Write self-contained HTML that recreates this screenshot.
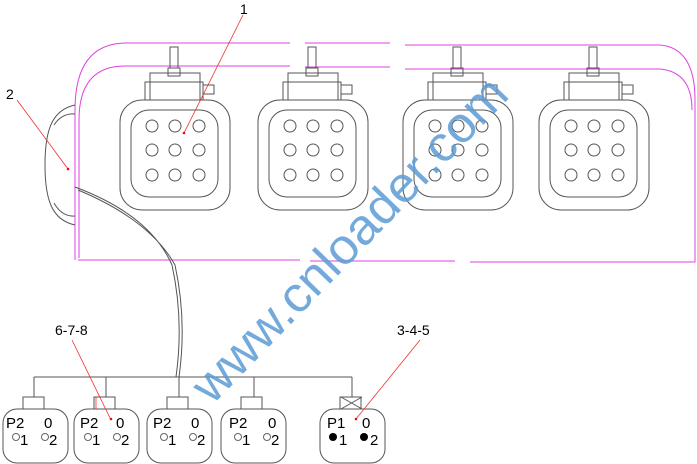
<!DOCTYPE html>
<html><head><style>html,body{margin:0;padding:0;background:#fff}svg{display:block}</style></head><body>
<svg width="697" height="464" viewBox="0 0 697 464" xmlns="http://www.w3.org/2000/svg" font-family="Liberation Sans, Arial, sans-serif">
<defs>
<g id="m" fill="none" stroke="#555" stroke-width="1">
<rect x="0" y="70" width="110" height="110" rx="22"/>
<rect x="11" y="80" width="87" height="87" rx="18"/>
<circle cx="32" cy="96" r="6"/><circle cx="55" cy="96" r="6"/><circle cx="79" cy="96" r="6"/>
<circle cx="32" cy="120" r="6"/><circle cx="55" cy="120" r="6"/><circle cx="79" cy="120" r="6"/>
<circle cx="32" cy="145" r="6"/><circle cx="55" cy="145" r="6"/><circle cx="79" cy="145" r="6"/>
<rect x="25" y="52" width="58" height="18"/>
<rect x="30" y="43" width="50" height="27"/>
<rect x="83" y="55" width="11" height="9"/>
<rect x="48" y="38" width="12" height="8"/>
<rect x="50" y="17" width="8" height="21"/>
</g>
<g id="c" fill="none" stroke="#555">
<rect x="0" y="12" width="65" height="54" rx="14"/>
<rect x="20" y="0" width="21" height="12"/>
</g>
</defs>
<g fill="none" stroke="#e040e0" stroke-width="1">
<path d="M75 260 V110 Q75 44 125 43 H290 M305 43 H390 M405 45 H660 Q695 48 695 100 V262 H470"/>
<path d="M79 258 V120 Q79 66 125 66 H290 M305 67 H390 M405 69 H660 Q692 72 692 110"/>
<path d="M78 260 H300 M310 261 H455"/>
</g>
<use href="#m" x="120" y="30"/>
<use href="#m" x="258" y="30"/>
<use href="#m" x="403" y="30"/>
<use href="#m" x="539" y="30"/>
<g fill="none" stroke="#555">
<path d="M75 105 C52 110 45 130 45 165 C45 200 52 220 75 225"/>
<path d="M54 125 Q62 113 75 114 M54 203 Q62 217 75 216"/>
<path d="M75 187 Q150 215 172 265 Q184 320 176 377 M78 190 Q150 220 175 265 Q187 320 179 377"/>
<path d="M34 377 H352 M34 377 V397 M106 377 V397 M179 377 V397 M254 377 V397 M352 377 V397"/>
<path d="M341 397 L362 409 M362 397 L341 409"/>
</g>
<use href="#c" x="3" y="397"/>
<use href="#c" x="74" y="397"/>
<use href="#c" x="147" y="397"/>
<use href="#c" x="221" y="397"/>
<use href="#c" x="320" y="397"/>
<g font-size="15" fill="#000">
<text x="6" y="428">P2</text><text x="44" y="428">0</text>
<text x="80" y="428">P2</text><text x="116" y="428">0</text>
<text x="153" y="428">P2</text><text x="191" y="428">0</text>
<text x="229" y="428">P2</text><text x="268" y="428">0</text>
<text x="327" y="428">P1</text><text x="362" y="428">0</text>
<text x="20" y="445">1</text><text x="49" y="445">2</text>
<text x="92" y="445">1</text><text x="121" y="445">2</text>
<text x="168" y="445">1</text><text x="197" y="445">2</text>
<text x="242" y="445">1</text><text x="271" y="445">2</text>
<text x="339" y="445">1</text><text x="370" y="445">2</text>
</g>
<g font-size="14" fill="#000">
<text x="240" y="14">1</text><text x="6" y="99">2</text>
<text x="55" y="335">6-7-8</text><text x="397" y="335">3-4-5</text>
</g>
<g fill="none" stroke="#666">
<circle cx="16" cy="437" r="3.5"/><circle cx="45" cy="437" r="3.5"/>
<circle cx="88" cy="437" r="3.5"/><circle cx="117" cy="437" r="3.5"/>
<circle cx="164" cy="437" r="3.5"/><circle cx="193" cy="437" r="3.5"/>
<circle cx="238" cy="437" r="3.5"/><circle cx="267" cy="437" r="3.5"/>
</g>
<circle cx="333" cy="437" r="4" fill="#000"/><circle cx="364" cy="437" r="4" fill="#000"/>
<g stroke="#f03030" stroke-width="0.8">
<line x1="243" y1="15" x2="184" y2="133"/>
<line x1="17" y1="100" x2="68" y2="169"/>
<line x1="72" y1="340" x2="110" y2="418"/>
<line x1="420" y1="340" x2="356" y2="419"/>
<line x1="96" y1="409" x2="96" y2="397"/>
</g>
<g fill="#f00"><circle cx="184" cy="133" r="1.3"/><circle cx="68" cy="169" r="1.3"/><circle cx="111" cy="419" r="1.3"/><circle cx="356" cy="419" r="1.3"/></g>
<text x="350" y="256" font-size="50" fill="#5b9bd5" fill-opacity="0.85" text-anchor="middle" textLength="430" lengthAdjust="spacingAndGlyphs" transform="rotate(-46 350 240)">www.cnloader.com</text>
</svg>
</body></html>
